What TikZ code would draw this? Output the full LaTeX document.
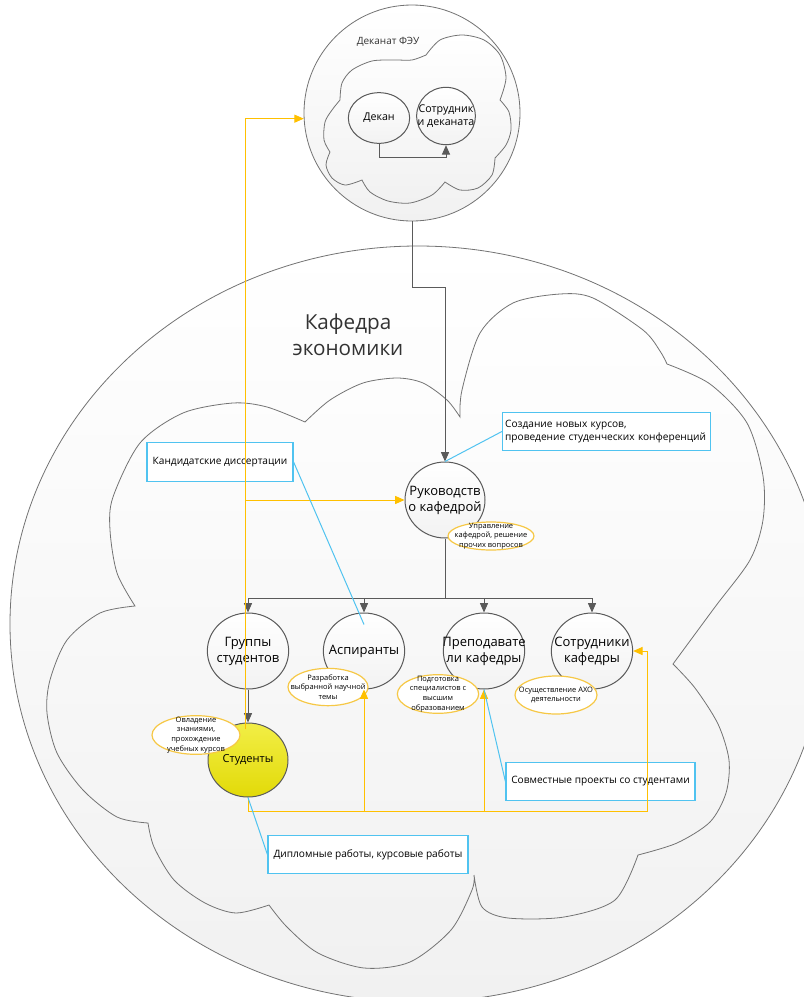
\documentclass[tikz,border=0pt]{standalone}
\usepackage{fontspec}
\setmainfont{Open Sans}
\usetikzlibrary{shapes.geometric,arrows.meta}
\definecolor{lineG}{RGB}{90,90,90}
\definecolor{yelL}{RGB}{255,192,0}
\definecolor{yelE}{RGB}{246,200,70}
\definecolor{bluL}{RGB}{80,195,240}
\definecolor{shadeG}{RGB}{241,241,241}
\definecolor{studT}{RGB}{242,238,70}
\definecolor{studB}{RGB}{226,218,8}

\begin{document}
\begin{tikzpicture}[x=0.75pt, y=-0.75pt,
  blob/.style={draw=lineG!85, line width=0.6pt, top color=white, bottom color=shadeG},
  unit/.style={ellipse, draw=lineG, line width=0.75pt, top color=white, bottom color=black!5,
    inner xsep=-12pt, inner ysep=-8pt, minimum width=61pt, minimum height=57pt,
    align=center, font=\fontsize{9.75}{12}\selectfont},
  task/.style={ellipse, draw=yelE, line width=0.9pt, fill=white, inner xsep=-12pt, inner ysep=-10pt,
    align=center, font=\fontsize{5.6}{7.3}\selectfont},
  note/.style={draw=bluL, line width=0.9pt, fill=white, inner sep=2pt, minimum height=29pt,
    align=center, font=\fontsize{7.6}{9.5}\selectfont},
  darr/.style={draw=lineG, line width=0.75pt, -{Triangle[length=7pt,width=6pt]}},
  yarr/.style={draw=yelL, line width=0.75pt, -{Triangle[length=7pt,width=6pt]}},
  bline/.style={draw=bluL, line width=0.75pt}]
  \useasboundingbox (0,0) rectangle (804,997);

  % department: big circle and cloud
  \draw[blob] (418,624) ellipse [x radius=306pt, y radius=283.5pt];
  \draw[blob]
    plot[smooth] coordinates {(305,422) (267,407) (233,403) (183,413) (140,443) (113,497) (110,530) (117,573) (135,606)}
    -- plot[smooth] coordinates {(135,606) (100,613) (67,640) (50,680) (47,713) (57,753) (83,790) (117,817) (148,823)}
    -- plot[smooth] coordinates {(148,823) (154,847) (174,880) (205,903) (236,913) (269,905)}
    -- plot[smooth] coordinates {(269,905) (287,927) (318,953) (364,968) (410,962) (451,930) (472,890) (474,875)}
    -- plot[smooth] coordinates {(474,875) (482,907) (508,918) (564,917) (615,900) (638,855)}
    -- plot[smooth] coordinates {(638,855) (677,843) (710,822) (726,793) (729,760) (718,724) (695,688) (673,664)}
    -- plot[smooth] coordinates {(673,664) (715,607) (750,560) (763,520) (763,476) (747,423) (710,384) (667,364)}
    -- plot[smooth] coordinates {(667,364) (660,351) (643,330) (593,298) (560,294) (513,303) (480,333) (462,390) (460,417)}
    -- plot[smooth] coordinates {(460,417) (447,400) (423,383) (397,378) (363,383) (330,400) (305,422)}
    -- cycle;
  \node[font=\fontsize{15.5}{19.5}\selectfont, align=center, text=black!80] (kafname) at (348,335) {Кафедра\\экономики};

  % deanery
  \node[circle, blob, minimum size=162pt, inner sep=0pt] (deanery) at (412,113) {};
  \draw[blob]
    plot[smooth] coordinates {(340,100) (342,83) (352,70) (372,61) (395,60) (412,60) (426,55)}
    -- plot[smooth] coordinates {(426,55) (440,40) (462,35) (484,40) (500,55) (506,78) (500,100)}
    -- plot[smooth] coordinates {(500,100) (509,112) (511,130) (506,145) (495,158)}
    -- plot[smooth] coordinates {(495,158) (492,175) (478,188) (460,190) (445,182)}
    -- plot[smooth] coordinates {(445,182) (432,195) (410,203) (388,201) (370,192) (362,180)}
    -- plot[smooth] coordinates {(362,180) (345,185) (332,178) (326,165) (330,152)}
    -- plot[smooth] coordinates {(330,152) (324,140) (325,122) (332,110) (340,100)}
    -- cycle;
  \node[font=\fontsize{7.5}{9}\selectfont, text=black!80] (deanname) at (388,42) {Деканат ФЭУ};
  \node[unit, minimum width=46pt, minimum height=38pt, font=\fontsize{8}{10}\selectfont] (dekan) at (379,118) {Декан};
  \node[unit, minimum width=44pt, minimum height=43pt, font=\fontsize{8}{10}\selectfont] (sotrd) at (446,116) {Сотрудник\\и деканата};

  % units of the department
  \node[unit, minimum width=60pt] (ruk) at (445,500) {Руководств\\о кафедрой};
  \node[unit] (grp) at (248,651) {Группы\\студентов};
  \node[unit] (asp) at (364,651) {Аспиранты};
  \node[unit] (prep) at (484,651) {Преподавате\\ли кафедры};
  \node[unit] (sotr) at (592,651) {Сотрудники\\кафедры};
  \node[unit, minimum width=60pt, minimum height=55.5pt, top color=studT, bottom color=studB,
    font=\fontsize{8.3}{10}\selectfont] (stud) at (248,760) {Студенты};

  % tasks
  \node[task, minimum width=64.5pt, minimum height=21pt] (upr) at (491,536) {Управление\\кафедрой, решение\\прочих вопросов};
  \node[task, minimum width=60pt, minimum height=28pt] (razr) at (328,687) {Разработка\\выбранной научной\\темы};
  \node[task, minimum width=61pt, minimum height=29pt] (podg) at (438,694) {Подготовка\\специалистов с\\высшим\\образованием};
  \node[task, minimum width=61.5pt, minimum height=28.5pt] (osush) at (556,695) {Осуществление АХО\\деятельности};
  \node[task, minimum width=66pt, minimum height=29pt] (ovlad) at (196,735) {Овладение\\знаниями,\\прохождение\\учебных курсов};

  % notes
  \node[note, text width=152pt, align=left] (sozd) at (606.5,431.5) {Создание новых курсов,\\проведение студенческих конференций};
  \node[note, minimum width=109.5pt] (kand) at (220,462) {Кандидатские диссертации};
  \node[note, minimum width=141.75pt] (sovm) at (600.5,781.5) {Совместные проекты со студентами};
  \node[note, minimum width=150pt] (dipl) at (368,854.5) {Дипломные работы, курсовые работы};

  % management lines
  \coordinate (dekknee) at (379,157);
  \draw[darr] (dekan.south) -- (dekknee) -| (sotrd.south);
  \coordinate (knee) at (412,287);
  \draw[darr] (deanery.south) -- (knee) -| (ruk.north);
  \coordinate (split) at (445,598);
  \draw[lineG, line width=0.75pt] (ruk.south) -- (split);
  \foreach \n in {grp,asp,prep,sotr}
    \draw[darr] (split) -| (\n.north);
  \draw[darr] (grp.south) -- (stud.north);

  % student links
  \draw[yarr] ([xshift=-2.25pt,yshift=-5pt]stud.north) |- (deanery.183);
  \coordinate (ymid) at (245,500);
  \draw[yarr] (ymid) -- (ruk.west);
  \coordinate (ycorner) at (647,811);
  \draw[yarr] (stud.south) |- (ycorner) |- (sotr.east);
  \draw[yarr] (asp.south |- ycorner) -- (asp.south);
  \draw[yarr] (prep.south |- ycorner) -- (prep.south);

  % notes to units
  \draw[bline] (sozd.west) -- (ruk.north);
  \draw[bline] (kand.east) -- ([yshift=-9pt]asp.north);
  \draw[bline] (sovm.west) -- (prep.south);
  \draw[bline] (dipl.west) -- (stud.south);
\end{tikzpicture}
\end{document}
